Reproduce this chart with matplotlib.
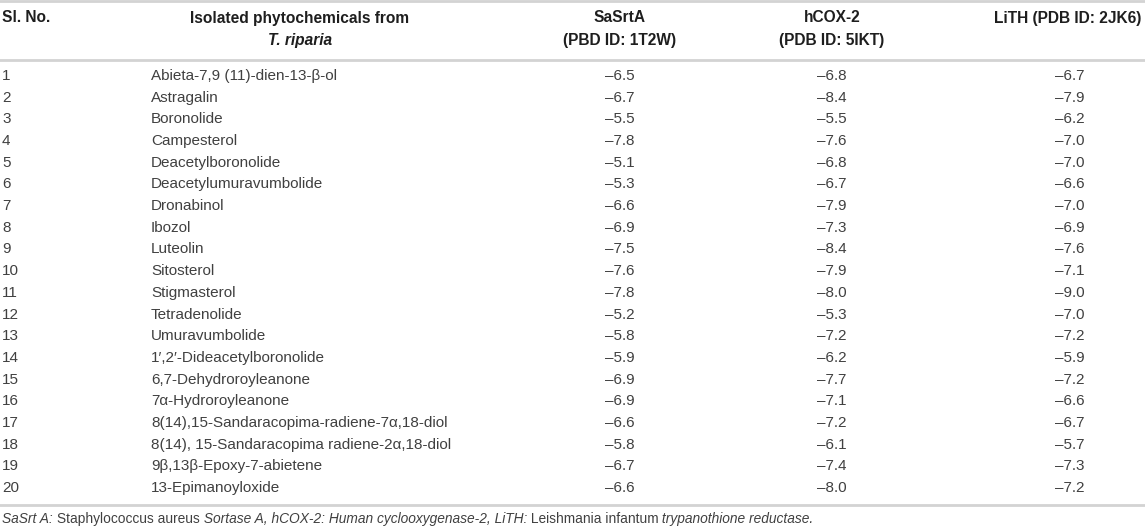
import matplotlib.pyplot as plt

# table content
sl_no = list(range(1, 21))
compounds = [
    "Abieta-7,9 (11)-dien-13-β-ol", "Astragalin", "Boronolide", "Campesterol",
    "Deacetylboronolide", "Deacetylumuravumbolide", "Dronabinol", "Ibozol",
    "Luteolin", "Sitosterol", "Stigmasterol", "Tetradenolide", "Umuravumbolide",
    "1′,2′-Dideacetylboronolide", "6,7-Dehydroroyleanone", "7α-Hydroroyleanone",
    "8(14),15-Sandaracopima-radiene-7α,18-diol",
    "8(14), 15-Sandaracopima radiene-2α,18-diol",
    "9β,13β-Epoxy-7-abietene", "13-Epimanoyloxide",
]
sasrta = [-6.5, -6.7, -5.5, -7.8, -5.1, -5.3, -6.6, -6.9, -7.5, -7.6,
          -7.8, -5.2, -5.8, -5.9, -6.9, -6.9, -6.6, -5.8, -6.7, -6.6]
hcox2 = [-6.8, -8.4, -5.5, -7.6, -6.8, -6.7, -7.9, -7.3, -8.4, -7.9,
         -8.0, -5.3, -7.2, -6.2, -7.7, -7.1, -7.2, -6.1, -7.4, -8.0]
lith = [-6.7, -7.9, -6.2, -7.0, -7.0, -6.6, -7.0, -6.9, -7.6, -7.1,
        -9.0, -7.0, -7.2, -5.9, -7.2, -6.6, -6.7, -5.7, -7.3, -7.2]

plt.rcParams['font.family'] = ['Liberation Sans', 'DejaVu Sans']
TXT = '#404040'
FS = 11
HFS = 11.2

fig = plt.figure(figsize=(11.45, 5.32), dpi=100)
ax = fig.add_axes([0, 0, 1, 1])
ax.set_xlim(0, 1145)
ax.set_ylim(532, 0)
ax.axis('off')

# horizontal rules
for y in (1, 60, 505):
    ax.axhline(y, color='#d3d3d3', lw=2)

# column x positions (pixels)
x_no, x_name, x_hdr_name = 2, 151, 300
x_sa, x_cox, x_li = 620, 832, 1068

# header
hdr = dict(fontsize=HFS, fontweight='bold', color='#1e1e1e', va='center')
ax.text(x_no, 18, "Sl. No.", ha='left', **hdr)
ax.text(x_hdr_name, 18, "Isolated phytochemicals from", ha='center', **hdr)
ax.text(x_hdr_name, 41, "T. riparia", ha='center', style='italic', **hdr)
ax.text(x_sa, 18, "SaSrtA", ha='center', **hdr)
ax.text(x_sa, 41, "(PBD ID: 1T2W)", ha='center', **hdr)
ax.text(x_cox, 18, "hCOX-2", ha='center', **hdr)
ax.text(x_cox, 41, "(PDB ID: 5IKT)", ha='center', **hdr)
ax.text(x_li, 18, "LiTH (PDB ID: 2JK6)", ha='center', **hdr)


def fmt(v):
    return f"{v:.1f}".replace("-", "\u2013")


row_top = 76
row_step = (488 - 76) / 19
body = dict(fontsize=FS, color=TXT, va='center')
for i, n in enumerate(sl_no):
    y = row_top + i * row_step
    ax.text(x_no, y, str(n), ha='left', **body)
    ax.text(x_name, y, compounds[i], ha='left', **body)
    ax.text(x_sa, y, fmt(sasrta[i]), ha='center', **body)
    ax.text(x_cox, y, fmt(hcox2[i]), ha='center', **body)
    ax.text(x_li + 2, y, fmt(lith[i]), ha='center', **body)

# footnote with mixed italic runs
parts = [
    ("SaSrt A:", 'italic'), (" Staphylococcus aureus", 'normal'),
    (" Sortase A, hCOX-2: Human cyclooxygenase-2, LiTH:", 'italic'),
    (" Leishmania infantum", 'normal'), (" trypanothione reductase.", 'italic'),
]
prev = ax.text(2, 523, parts[0][0], ha='left', va='baseline', fontsize=9.9,
               color=TXT, style=parts[0][1])
for txt, st in parts[1:]:
    prev = ax.annotate(txt, xy=(1, 0), xycoords=prev, ha='left', va='bottom',
                       fontsize=9.9, color=TXT, style=st)

fig.savefig('out.png', dpi=100)
